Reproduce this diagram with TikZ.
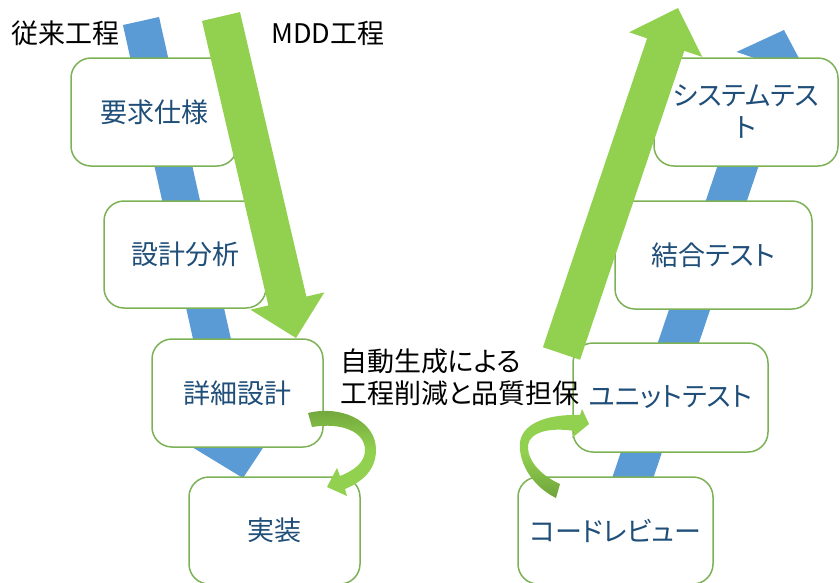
\documentclass[tikz,border=0pt]{standalone}
\usepackage{fontspec}
\newfontfamily\jpfont[RawFeature=+palt]{Noto Sans CJK JP}
\usetikzlibrary{calc}
\definecolor{vblue}{HTML}{5B9BD5}
\definecolor{mgreen}{HTML}{92D050}
\definecolor{dgreen}{HTML}{6FA33A}
\definecolor{boxline}{HTML}{7CB255}
\definecolor{txtblue}{HTML}{1F4E79}
% block arrow: tail centre, tip, band half width, head half width, head length, colour
\newcommand\blockarrow[6]{%
  \coordinate (ba-t) at (#1);
  \coordinate (ba-h) at (#2);
  \coordinate (ba-b) at ($(ba-h)!#5!(ba-t)$);
  \fill[#6] ($(ba-t)!#3!90:(ba-h)$) -- ($(ba-b)!#3!90:(ba-h)$) -- ($(ba-b)!#4!90:(ba-h)$)
    -- (ba-h) -- ($(ba-b)!#4!-90:(ba-h)$) -- ($(ba-b)!#3!-90:(ba-h)$) -- ($(ba-t)!#3!-90:(ba-h)$) -- cycle;
}
\begin{document}
\begin{tikzpicture}[x=1pt,y=-1pt,
  stagebox/.style 2 args={draw=boxline, line width=1.5pt, fill=white, rounded corners=20pt,
    minimum width=#1pt, minimum height=#2pt, inner sep=0pt, align=center, text=txtblue,
    font=\jpfont\fontsize{27}{32}\selectfont},
  lbl/.style={inner sep=0pt, text=black, font=\jpfont\fontsize{27}{32}\selectfont}]
\useasboundingbox (0,0) rectangle (840,582);
\clip (0,0) rectangle (840,582);

% traditional process (blue, behind boxes)
\coordinate (bl-tail) at (141,21);
\coordinate (bl-tip) at (243,478);
\coordinate (br-tail) at (605,560);
\coordinate (br-tip) at (784,30);
\blockarrow{bl-tail}{bl-tip}{18.5pt}{52pt}{50pt}{vblue}
\blockarrow{br-tail}{br-tip}{19.5pt}{38pt}{36pt}{vblue}

% stage boxes
\node[stagebox={166}{108}] (req) at (154,112) {要求仕様};
\node[stagebox={162}{107}] (anl) at (185,254.5) {設計分析};
\node[stagebox={171}{108}] (det) at (237.5,393) {詳細設計};
\node[stagebox={171}{107}] (impl) at (274.5,530.5) {実装};
\node[stagebox={195}{107}] (rev) at (615.5,530.5) {コードレビュー};
\node[stagebox={195}{109}] (unit) at (670.5,397.5) {ユニットテスト};
\node[stagebox={197}{108}] (integ) at (713.5,255) {結合テスト};
\node[stagebox={184}{108}] (sys) at (746,112) {システムテス\\ト};

% MDD process (green, above boxes)
\coordinate (gl-tail) at (221,16.5);
\coordinate (gl-tip) at (296,338);
\coordinate (gr-tail) at (561.5,353.5);
\coordinate (gr-tip) at (678,8);
\blockarrow{gl-tail}{gl-tip}{19.5pt}{38pt}{38pt}{mgreen}
\blockarrow{gr-tail}{gr-tip}{19.6pt}{38.6pt}{38.6pt}{mgreen}

% curved arrow: detailed design -> implementation
\shade[top color=dgreen, bottom color=mgreen, middle color=mgreen]
  (308,413) .. controls (340,405) and (376,420) .. (376,450)
  .. controls (376,470) and (362,482) .. (345,489)
  -- (347,496) -- (327,487) -- (337,468) -- (340,476)
  .. controls (355,470) and (365,462) .. (365,450)
  .. controls (365,432) and (342,422) .. (312,427) -- cycle;

% curved arrow: code review -> unit test
\shade[top color=mgreen, bottom color=dgreen, middle color=mgreen]
  (556,498) .. controls (530,485) and (518,460) .. (520,442)
  .. controls (523,422) and (550,414) .. (580,415)
  -- (582,409) -- (589,424) -- (572,438) -- (574.5,431)
  .. controls (550,427) and (530,432) .. (528,445)
  .. controls (527,460) and (540,475) .. (560,484) -- cycle;

% labels
\node[lbl] (trad) at (65,33) {従来工程};
\node[lbl] (mdd) at (328,33) {MDD工程};
\node[lbl, anchor=west, align=left] (note) at (340,377) {自動生成による\\工程削減と品質担保};
\end{tikzpicture}
\end{document}
